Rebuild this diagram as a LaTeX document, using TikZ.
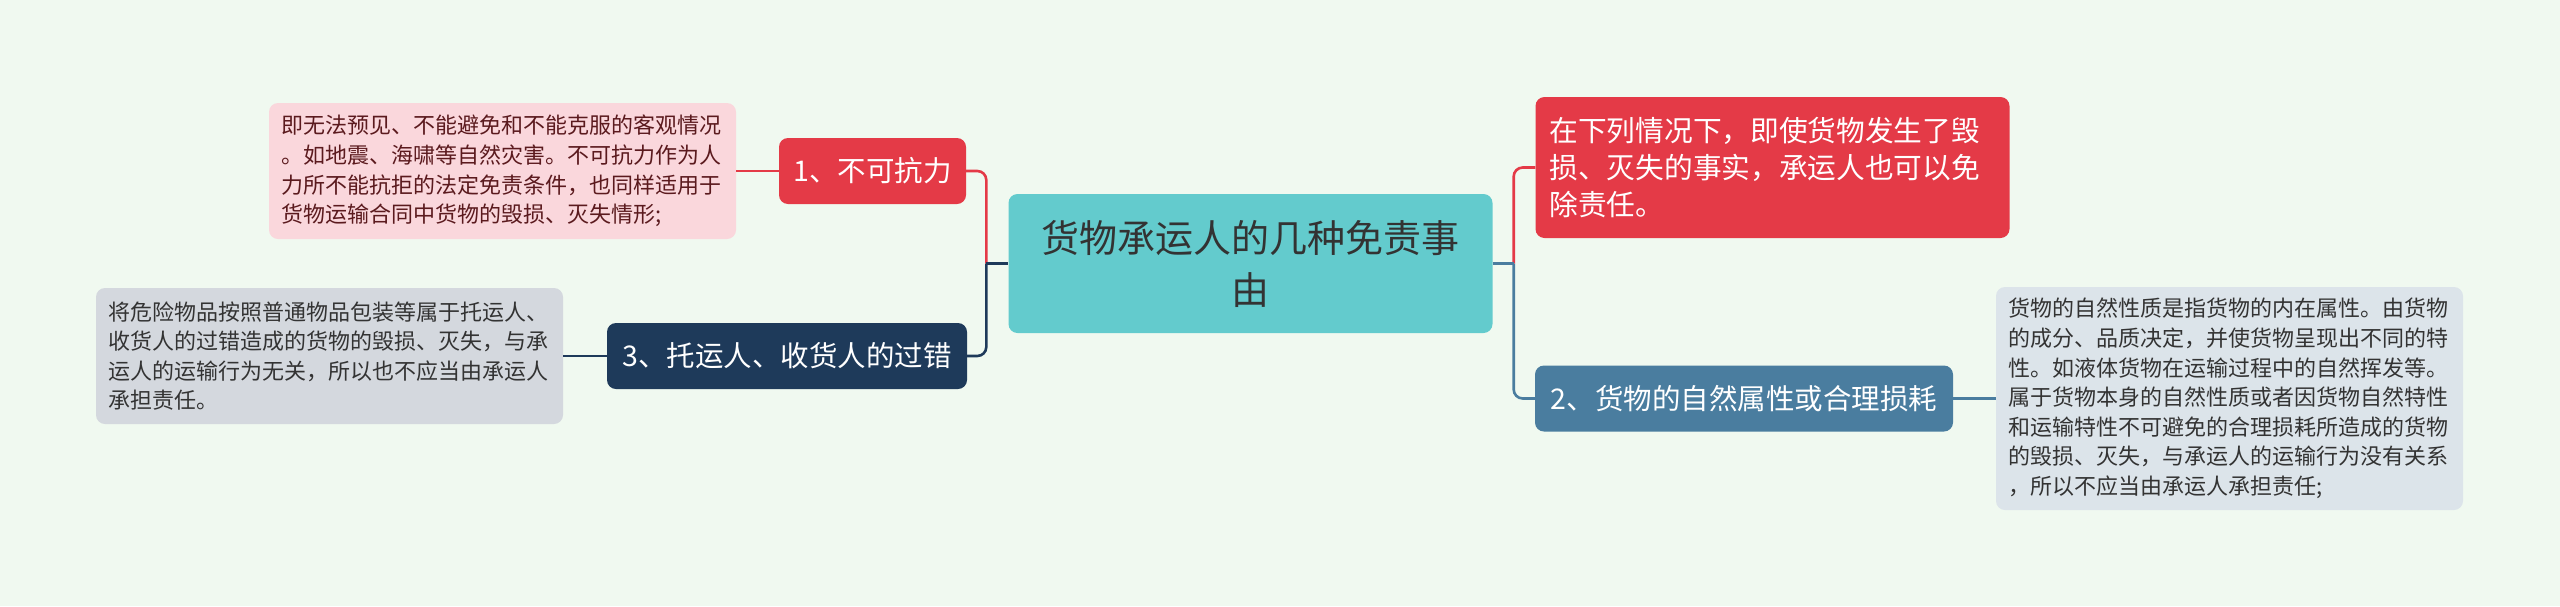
\documentclass[tikz,border=0pt]{standalone}
\usepackage{fontspec}
\newfontfamily\cjk{Noto Sans CJK SC}
\definecolor{bgc}{HTML}{F0F9F0}
\definecolor{centerc}{HTML}{63CBCD}
\definecolor{redc}{HTML}{E43A47}
\definecolor{navyc}{HTML}{1E3A5A}
\definecolor{steelc}{HTML}{4A7D9F}
\definecolor{pinkleaf}{HTML}{FAD7DC}
\definecolor{grayleaf}{HTML}{D4D8DE}
\definecolor{blueleaf}{HTML}{DCE4EA}
\definecolor{leafred}{HTML}{5B1A1E}
\definecolor{darktext}{HTML}{333333}
\begin{document}
\begin{tikzpicture}[x=1pt,y=-1pt,
  box/.style={rounded corners=9pt, inner ysep=0pt, anchor=center},
  leaf/.style={box, align=left, inner xsep=12pt, text width=443pt,
    font=\cjk\fontsize{22}{29.6}\selectfont},
  topic/.style={box, align=center, inner xsep=0pt, text=white,
    minimum height=66pt, font=\cjk\fontsize{28.5}{36}\selectfont},
  conn/.style={line width=2.6pt}
]
\useasboundingbox[fill=bgc] (0,0) rectangle (2560,606);

% central node
\node[box, fill=centerc, text=darktext, align=center, text width=484pt, inner xsep=0pt,
  minimum height=139pt, font=\cjk\fontsize{38}{52}\selectfont] (c) at (1250.5,263.5)
  {货物承运人的几种免责事\\由};

% left side
\node[topic, fill=redc, minimum width=187pt] (n1) at (872.5,171) {1、不可抗力};
\node[leaf, fill=pinkleaf, text=leafred, minimum height=136pt] (l1) at (502.5,171)
  {即无法预见、不能避免和不能克服的客观情况\\。如地震、海啸等自然灾害。不可抗力作为人\\力所不能抗拒的法定免责条件，也同样适用于\\货物运输合同中货物的毁损、灭失情形;};

\node[topic, fill=navyc, minimum width=360pt] (n3) at (787,356) {3、托运人、收货人的过错};
\node[leaf, fill=grayleaf, text=darktext, minimum height=136pt] (l3) at (329.5,356)
  {将危险物品按照普通物品包装等属于托运人、\\收货人的过错造成的货物的毁损、灭失，与承\\运人的运输行为无关，所以也不应当由承运人\\承担责任。};

% right side
\node[box, fill=redc, text=white, align=left, text width=446pt, inner xsep=14pt,
  minimum height=141pt, font=\cjk\fontsize{28.7}{37}\selectfont] (nr) at (1772.5,167.5)
  {在下列情况下，即使货物发生了毁\\损、灭失的事实，承运人也可以免\\除责任。};

\node[topic, fill=steelc, minimum width=418pt] (n2) at (1744,398.5) {2、货物的自然属性或合理损耗};
\node[leaf, fill=blueleaf, text=darktext, minimum height=223pt] (l2) at (2229.5,398.5)
  {货物的自然性质是指货物的内在属性。由货物\\的成分、品质决定，并使货物呈现出不同的特\\性。如液体货物在运输过程中的自然挥发等。\\属于货物本身的自然性质或者因货物自然特性\\和运输特性不可避免的合理损耗所造成的货物\\的毁损、灭失，与承运人的运输行为没有关系\\，所以不应当由承运人承担责任;};

% connectors
\coordinate (cl) at ([xshift=-22pt]c.west);
\coordinate (cr) at ([xshift=21pt]c.east);

\draw[conn, redc] (l1.east) -- (n1.west);
\draw[conn, navyc] (l3.east) -- (n3.west);
\draw[conn, steelc] (n2.east) -- (l2.west);

\draw[conn, redc, rounded corners=9pt] (n1.east) -| (cl);
\draw[conn, navyc, rounded corners=9pt] (n3.east) -| (cl);
\draw[conn, navyc] (cl) -- (c.west);

\draw[conn, redc, rounded corners=9pt] (cr) |- (nr.west);
\draw[conn, steelc, rounded corners=9pt] (cr) |- (n2.west);
\draw[conn, steelc] (c.east) -- (cr);
\end{tikzpicture}
\end{document}
